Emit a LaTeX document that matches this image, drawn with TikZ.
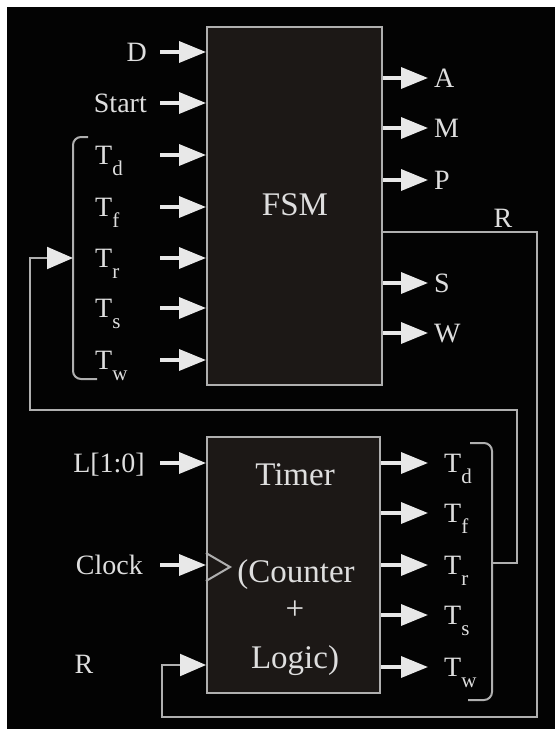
\documentclass[tikz,border=0pt]{standalone}
\usepackage{fontspec}
\setmainfont{Liberation Serif}
\usetikzlibrary{arrows.meta}
\definecolor{panelBlack}{RGB}{3,3,3}
\definecolor{boxFill}{RGB}{28,24,22}
\definecolor{wireGray}{RGB}{175,175,175}
\definecolor{sigWhite}{RGB}{232,232,232}
\definecolor{txtGray}{RGB}{222,222,222}
\newcommand{\tsub}[1]{T\raisebox{-11pt}{\fontsize{21}{21}\selectfont #1}}

\begin{document}
\begin{tikzpicture}[
  x=1pt, y=-1pt,
  block/.style={
    draw=wireGray, fill=boxFill, line width=2pt, inner sep=0pt
  },
  sig/.style={-{Triangle[length=27pt,width=21pt]}, draw=sigWhite, line width=3.5pt},
  wire/.style={draw=wireGray, line width=2pt},
  back/.style={wire, -{Triangle[length=26pt,width=22pt,color=sigWhite]}},
  lbl/.style={text=txtGray, font=\fontsize{28}{30}\selectfont, inner sep=0pt},
  big/.style={text=txtGray, font=\fontsize{33}{36}\selectfont, inner sep=0pt}
]
  % panel
  \fill[white] (0,0) rectangle (555,729);
  \fill[panelBlack] (7,7) rectangle (555,729);

  % blocks
  \node[block, minimum width=175pt, minimum height=358pt] (fsm) at (294.5,206) {};
  \node[block, minimum width=173pt, minimum height=256pt] (timer) at (293.5,565) {};
  \node[big, anchor=base] (fsmname) at (295,215) {FSM};
  \node[big, anchor=base] (tmr1) at (295,485) {Timer};
  \node[big, anchor=base] (tmr2) at (296,582) {(Counter};
  \node[big, anchor=base] (tmr3) at (295,619) {+};
  \node[big, anchor=base] (tmr4) at (295,668) {Logic)};

  % FSM inputs
  \foreach \y/\t [count=\i] in {52/D, 103/Start} {
    \node[lbl, anchor=base east] (fin\i) at (147,\y+9) {\t};
    \coordinate (fins\i) at (160,\y);
    \draw[sig] (fins\i) -- (fsm.west |- fins\i);
  }
  \foreach \y/\s in {155/d, 207/f, 258/r, 308/s, 360/w} {
    \node[lbl, anchor=base west] (ft\s) at (95,\y+9) {\tsub{\s}};
    \coordinate (fts\s) at (160,\y);
    \draw[sig] (fts\s) -- (fsm.west |- fts\s);
  }

  % FSM outputs
  \foreach \y/\t in {78/A, 128/M, 180/P, 283/S, 333/W} {
    \node[lbl, anchor=base west] (fo\t) at (434,\y+9) {\t};
    \coordinate (foc\t) at (428,\y);
    \draw[sig] (fsm.east |- foc\t) -- (foc\t);
  }

  % Timer inputs
  \node[lbl, anchor=base east] (inL) at (145,463+9) {L[1:0]};
  \node[lbl, anchor=base east] (inClk) at (143,565+9) {Clock};
  \node[lbl, anchor=base] (inR) at (84,673) {R};
  \coordinate (inLs) at (160,463);
  \coordinate (inClks) at (160,565);
  \draw[sig] (inLs) -- (timer.west |- inLs);
  \draw[sig] (inClks) -- (timer.west |- inClks);
  \draw[wire] (timer.west |- 0,553) -- (230,567) -- (timer.west |- 0,581);

  % Timer outputs
  \foreach \y/\s in {463/d, 513/f, 565/r, 615/s, 667/w} {
    \node[lbl, anchor=base west] (tt\s) at (444,\y+9) {\tsub{\s}};
    \coordinate (ttc\s) at (428,\y);
    \draw[sig] (timer.east |- ttc\s) -- (ttc\s);
  }

  % brackets
  \draw[wire, rounded corners=8pt] (88,137) -- (73,137) -- (73,379) -- (97,379);
  \draw[wire, rounded corners=8pt] (470,443) -- (492,443) -- (492,700) -- (468,700);
  \coordinate (lbrMid) at (73,258);
  \coordinate (rbrMid) at (492,563);

  % T feedback
  \draw[back] (rbrMid) -- (517,563) -- (517,410) -- (30,410) -- (30,258) -- (lbrMid);

  % R loop
  \coordinate (rOut) at (382,232);
  \node[lbl, anchor=base] (rlbl) at (503,227) {R};
  \draw[back] (fsm.east |- rOut) -- (537,232) -- (537,717) -- (162,717) -- (162,665)
    -- (timer.west |- 0,665);
\end{tikzpicture}
\end{document}
